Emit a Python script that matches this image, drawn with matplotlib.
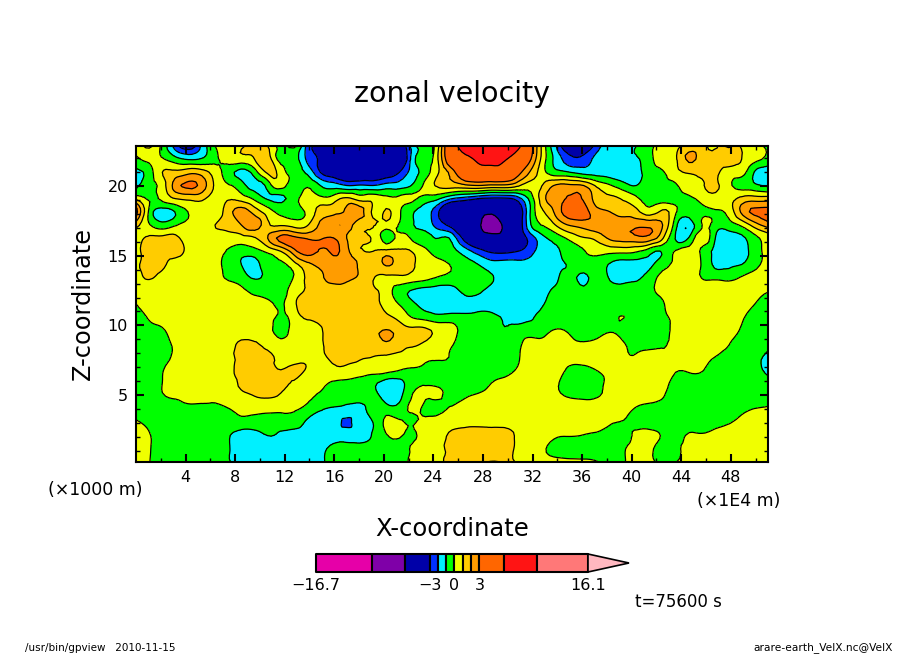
import numpy as np
import matplotlib
matplotlib.use("Agg")
import matplotlib.pyplot as plt
import matplotlib.tri as mtri
from matplotlib.patches import Polygon

W, H = 904, 654
xmin, xmax = 0.0, 51.0
zmin, zmax = 0.2, 22.87

levels = [-16.7, -10, -6, -3, -2, -1, 0, 1, 2, 3, 6, 10, 16.1]
colors = ['#E600A8', '#E600A8', '#7F00A8', '#0000A8', '#0030FF', '#00F0FF', '#00FF00', '#F0FF00',
          '#FFCC00', '#FF9C00', '#FF6600', '#FF1414', '#FF7878', '#FFB8C0']
xticks_major = [4, 8, 12, 16, 20, 24, 28, 32, 36, 40, 44, 48]
zticks_major = [5, 10, 15, 20]

# zonal velocity, rows from top of the panel to the bottom
left = [
[.3,1.2,-.3,-2.5,-3.8,-1.8,0,.5,.8,1.5,1,-.3,.3,-2.3,-3.5,-5,-5,-5,-5,-5,-4.5,-1.5,-.5,1,5],
[-.2,.3,.1,-.6,-1.1,-.9,-.2,.4,.6,1,1.6,-.4,-.5,-2.2,-3.2,-5,-5.5,-5.5,-5.5,-5.5,-5,-1.5,-.5,1.2,4.5],
[-1.3,-.5,1,1.3,1.7,1.5,.5,-.5,-1.3,-.5,1.2,.5,-.5,-1.2,-3,-4,-5,-5,-4.5,-4,-3,-1.6,-.4,1,2.5],
[-1.3,-.4,.5,2.5,3.2,2.6,.8,.1,-.6,-1.4,-.6,.4,-.5,-.1,-1,-1.5,-2,-1.9,-2,-1.6,-1.5,-.9,.3,1.2,1.5],
[.8,-.1,.2,1,1.2,1.2,.5,.9,.6,-.2,-1.1,-1.2,-.5,.5,.3,.5,1.2,.6,.7,.3,.2,.2,-.4,-.9,-2],
[3.5,-.2,-1.5,-.95,.05,.5,.6,1.5,2.5,1.6,.5,-.3,-.4,.2,1.4,1.7,2.3,2.5,.85,1.1,.15,-.9,-1.6,-3,-5],
[1.4,.1,-.6,-.1,.3,.5,1,1.3,2,2.6,1.2,.9,.6,.9,2.2,2.75,2.75,1.3,1.1,.6,-.1,-.95,-1.4,-2.5,-3.5],
[.5,1.2,1.3,1.3,.5,.5,.4,.5,.6,.9,2,3.3,3.3,2.9,2.9,3.02,2,1.1,.9,-.5,.4,-.2,-.6,-1,-1.3],
[.5,1.5,1.5,1.5,.6,.4,.3,-.1,-.6,-.4,.2,1,2.6,3.5,2.9,3.15,2.3,1.2,1,1.3,1.2,.95,.2,-.4,-.7],
[.8,1.4,1.2,.6,.4,.3,.2,-.3,-1,-1.3,-.5,-.2,.6,1.7,2.3,2.5,2.3,1.85,1.4,2.1,1.5,1.1,.5,.3,-.1],
[.5,1.1,.6,.4,.5,.5,.3,-.1,-.5,-1.1,-.7,-.3,.05,1.2,1.8,2.4,2.2,1.85,1.1,.7,.8,.6,.3,-.1,-.3],
[.3,.4,.4,.4,.5,.9,.5,.4,.2,-.2,-.4,-.4,.5,1.1,1.4,1.5,1.6,1.5,1.2,.5,-.5,-1.1,-1.4,-1.5,-1.4],
[0,.4,.5,.5,.5,.5,.5,.5,.5,.4,.2,-.1,.8,1.5,1.5,1.6,1.6,1.5,1.3,.7,-.05,-.8,-1.4,-1.5,-1.5],
[-.5,.1,.4,.5,.5,.5,.5,.5,.5,.5,.4,-.2,.5,1.1,1.3,1.6,1.6,1.6,1.5,1.2,.7,-.05,-.4,-.7,-.6],
[-.5,-.3,-.1,.4,.5,.5,.5,.5,.5,.5,.4,-.4,.4,.8,.9,1.5,1.6,1.6,1.7,2.05,1.6,1.3,1.2,.7,.4],
[-.5,-.5,-.3,.2,.5,.4,.5,.5,1.2,1.1,.7,.3,.5,.6,.9,1.3,1.6,1.6,1.5,1.9,1.4,1.2,.8,.4,.1],
[-.5,-.5,-.2,.1,.4,.5,.5,.6,1.4,1.3,1.1,.8,.6,.8,.9,1.1,1.2,1.1,1,.9,.8,.6,.2,.1,-.1],
[-.6,-.6,-.05,.3,.5,.5,.5,.6,1.5,1.4,1.2,1,1.2,.9,.6,.8,.8,.6,.5,.4,.05,-.1,-.2,-.4,-.4],
[-.6,-.6,0,.3,.4,.5,.5,.6,1.2,1.5,1.3,1.2,.9,.5,.2,-.1,-.2,-.4,-.8,-1.4,-1.3,-.4,-.05,-.1,-.3],
[-.7,-.7,-.1,.1,.3,.3,.2,.5,.7,1,1.1,.9,.5,.2,-.1,-.2,-.4,-.5,-.7,-1.4,-1.3,.05,.1,.08,-.3],
[-.7,-.7,-.6,-.4,-.3,-.3,-.2,-.05,.2,.2,.2,.2,.1,-.3,-.9,-1.2,-1.4,-1.4,-.5,-.5,-.6,.2,-.2,-.15,.1],
[.2,-.3,-.6,-.7,-.7,-.7,-.5,-.4,-.3,-.3,-.3,-.5,-.5,-1.2,-1.5,-1.6,-2.15,-1.5,-1,.3,.25,-.1,.4,.5,.5],
[.8,.1,-.6,-.7,-.7,-.6,-.5,-.9,-1.5,-1.5,-1,-1.2,-1.4,-1.5,-1.5,-1.5,-1.5,-1.5,-.9,-.1,.1,-.2,.5,.6,1.3],
[.9,.1,-.6,-.7,-.7,-.7,-.7,-.9,-1.6,-1.7,-1.7,-1.7,-1.7,-1.7,-1.4,-.6,-.5,-.5,-.5,-.4,-.2,.1,.5,.6,1.6],
[.9,.05,-.7,-.7,-.7,-.7,-.7,-.9,-1.6,-1.7,-1.7,-1.7,-1.7,-1.7,-1.3,-.5,-.5,-.5,-.5,-.5,-.3,.2,.5,.6,1.7],
]
right = [
[7,8,8.5,8,6.5,3.5,.3,-2.2,-4.5,-4.5,-2.5,-1.5,-1.5,-1,-.3,.3,.6,1.5,1.5,.7,2.2,.8,.3,-.2],
[5.5,6.5,7,6.2,5,3,.3,-1.5,-2.7,-2.6,-1.7,-1.3,-1.2,-1.1,-.3,.4,.9,2.2,1.5,1.3,1.4,1,.3,-.3],
[4.5,5,5,5,3.5,1.8,.2,-.7,-1,-1.4,-1.4,-1.5,-1.6,-1.4,-.5,-.1,.7,1.1,1.3,1.2,.6,.4,-1.1,-1.6],
[1.8,2,1.8,1.8,1.2,.5,1.2,2.2,2.2,2,.8,.1,-.6,-1,-.4,-.3,-.1,.6,.9,1.2,.3,-.4,-.8,-1.2],
[-2.5,-3,-3.2,-3.2,-2.5,-.5,1.8,2.8,3.1,2.9,1.5,1.2,.9,.2,-.5,-.5,-.4,-.2,.3,.7,.6,1.3,1.5,1.5],
[-5,-5.5,-5.5,-5,-4,-.8,1,2.5,3.6,3.5,2.4,2,1.6,1.3,.5,1.2,.1,-.6,-.2,-.1,.3,2.2,3.2,3.4],
[-5,-5.5,-7.5,-5.5,-4,-1,.1,1.2,2.1,2.4,2.6,2.6,2.7,2.75,2.75,2,-.7,-1.7,0,-.4,-.5,.2,1.5,2.5],
[-3.5,-4.5,-5,-5,-4,-2.5,-1.2,-.5,.3,.9,1.3,2.2,2.5,2.7,2.6,1.1,-1.1,-.9,.7,-1,-1.4,-1.2,-.3,.4],
[-1.5,-2.5,-3.2,-3.3,-3,-2.3,-1.4,-1.1,-.5,-.05,.3,.3,.3,.1,-.6,-.9,.1,.4,-.2,-1.3,-1.6,-1.4,-.5,.3],
[-.5,-1,-1.6,-1.6,-1.7,-1.7,-1.7,-1.3,-.8,-.3,-.5,-1.1,-1.4,-1.3,-1.2,-.4,.3,.5,-.1,-1.2,-1.2,-1,-.3,.3],
[-.3,-.4,-.9,-1.4,-1.6,-1.6,-1.6,-1.1,-.7,-1.2,-.6,-1.1,-1.3,-1.1,-.6,.4,.6,.6,-.05,-.2,-.3,.1,.4,.5],
[-.7,-.8,-1.3,-1.5,-1.6,-1.6,-1.3,-.7,-.7,-.7,-.7,-.7,-.7,-.7,-.3,.4,.6,.6,.5,.5,.5,.5,.3,.05],
[-1.4,-1.3,-1.4,-1.6,-1.6,-1.5,-1,-.7,-.7,-.7,-.7,-.7,-.7,-.6,-.6,-.1,.5,.6,.5,.5,.5,.3,0,-.3],
[-.7,-.7,-.8,-1.1,-1.3,-1.1,-.7,-.7,-.7,-.7,-.6,-.4,.03,-.5,-.6,-.3,.4,.6,.5,.5,.4,.1,-.3,-.5],
[-.6,-.6,-.6,-.9,-.6,-.5,-.3,.1,-.2,-.4,-.4,-.1,-.4,-.6,-.6,-.5,.4,.5,.5,.5,.3,-.1,-.6,-.6],
[-.6,-.6,-.6,-.5,-.2,.3,.3,.6,.3,.1,.3,.5,.1,-.4,-.4,-.2,.4,.6,.5,.3,.05,-.4,-.5,-.6],
[-.6,-.6,-.6,-.5,-.1,.5,.6,.6,.6,.6,.6,.6,.2,.1,.4,.2,.2,.6,.3,0,-.3,-.5,-.6,-1.4],
[-.5,-.5,-.5,-.3,.1,.5,.5,.4,-.3,-.4,.05,.5,.5,.5,.5,.4,.05,.1,.05,-.3,-.5,-.6,-.6,-1.5],
[-.5,-.5,0,.2,.4,.5,.5,.1,-.5,-.6,-.5,.4,.5,.5,.5,.3,-.3,-.5,-.5,-.6,-.6,-.6,-.6,-.5],
[-.1,.15,.4,.5,.5,.5,.5,.2,-.1,-.2,-.1,.4,.5,.4,.3,.05,-.4,-.6,-.6,-.6,-.6,-.6,-.6,-.6],
[.4,.5,.5,.5,.5,.5,.5,.5,.5,.5,.5,.5,.3,-.1,-.3,-.4,-.5,-.5,-.5,-.6,-.5,-.2,.05,.2],
[.6,.6,.6,.6,.6,.6,.6,.6,.6,.5,.5,.1,-.05,-.3,-.4,-.5,-.5,-.5,-.5,-.4,-.1,.3,.5,.5],
[1.6,1.8,1.6,1.5,.8,.6,.5,.1,.05,-.05,-.2,-.4,-.4,.2,.3,-.1,-.3,.1,.1,.4,.6,.6,.6,.6],
[1.8,1.9,1.8,1.7,.7,.5,.1,-.4,-.5,-.4,-.4,-.5,-.1,.4,.3,-.5,-.2,.2,.4,.5,.6,.6,.6,.6],
[1.8,1.9,2.05,1.8,.8,.6,.5,.4,.3,.2,.05,-.4,-.1,.4,.4,-.5,-.05,.5,.5,.5,.5,.5,.5,.5],
]

Z = np.array([a + b for a, b in zip(left, right)], dtype=float)
x = np.linspace(xmin, xmax, Z.shape[1])
z = np.linspace(zmax, zmin, Z.shape[0])

def box(x0, y0, x1, y1):
    return [x0 / W, 1 - y1 / H, (x1 - x0) / W, (y1 - y0) / H]

plt.rcParams['font.family'] = 'DejaVu Sans'
fig = plt.figure(figsize=(W / 100, H / 100), dpi=100, facecolor='white')
ax = fig.add_axes(box(136, 146, 768, 462))

# matplotlib's own triangular refiner gives the rounded contour shapes of the reference
X, ZZ = np.meshgrid(x, z)
tri = mtri.Triangulation(X.ravel(), ZZ.ravel())
fine_tri, fine_z = mtri.UniformTriRefiner(tri).refine_field(Z.ravel(), subdiv=2)
cf = ax.tricontourf(fine_tri, fine_z, levels=levels, colors=colors[1:-1], extend='both')
cf.cmap.set_under(colors[0])
cf.cmap.set_over(colors[-1])
cf.changed()
ax.tricontour(fine_tri, fine_z, levels=levels, colors='black', linewidths=0.9, linestyles='solid')
ax.set_xlim(xmin, xmax)
ax.set_ylim(zmin, zmax)
ax.set_xticks(xticks_major)
ax.set_yticks(zticks_major)
ax.set_xticks(np.arange(2, 51, 2), minor=True)
ax.set_yticks(np.arange(1, 23, 1), minor=True)
ax.tick_params(which='major', direction='in', length=5.5, width=1.5, top=True, right=True,
               labelsize=11.5, pad=6)
ax.tick_params(which='minor', direction='in', length=3, width=1, top=True, right=True)
for s in ax.spines.values():
    s.set_linewidth(1.5)

def put(px, py, s, size, **kw):
    kw.setdefault('ha', 'center')
    kw.setdefault('va', 'center')
    fig.text(px / W, 1 - py / H, s, fontsize=size, **kw)

put(452, 94, 'zonal velocity', 20.5)
put(452, 529, 'X-coordinate', 17.5)
put(83, 304, 'Z-coordinate', 17.3, rotation=90)
put(95, 490, '(×1000 m)', 12.5)
put(739, 501, '(×1E4 m)', 12.5)
put(678, 602, 't=75600 s', 12)
put(25, 648, '/usr/bin/gpview   2010-11-15', 7.5, ha='left')
put(893, 648, 'arare-earth_VelX.nc@VelX', 7.7, ha='right')

# colour bar drawn from the same levels
cx0, cx1, tip = 316, 588, 629
cax = fig.add_axes(box(cx0, 554, tip, 572))
scale = (levels[-1] - levels[0]) / (cx1 - cx0)
cax.set_xlim(levels[0], levels[-1] + (tip - cx1) * scale)
cax.set_ylim(0, 1)
cax.axis('off')
for a, b, c in zip(levels[:-1], levels[1:], colors[1:-1]):
    cax.fill_between([a, b], 0, 1, facecolor=c, edgecolor='black', linewidth=1.5, clip_on=False)
cax.add_patch(Polygon([[levels[-1], 0], [levels[-1], 1], [cax.get_xlim()[1], .5]], closed=True,
                      facecolor=colors[-1], edgecolor='black', linewidth=1.2, clip_on=False))
for v, lab in [(-16.7, '−16.7'), (-3, '−3'), (0, '0'), (3, '3'), (16.1, '16.1')]:
    put(cx0 + (v - levels[0]) / scale, 586, lab, 11.5)

fig.savefig('out.png', dpi=100, facecolor='white')
